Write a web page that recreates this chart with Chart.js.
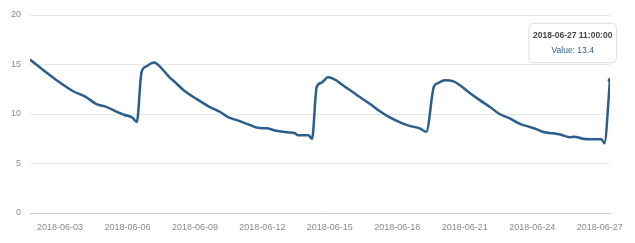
<!DOCTYPE html>
<html>
<head>
<meta charset="utf-8">
<script src="https://cdn.jsdelivr.net/npm/chart.js@4"></script>
<style>
html,body{margin:0;padding:0;background:#fff;}
#wrap{width:635px;height:243px;}
</style>
</head>
<body>
<div id="wrap"><canvas id="c" width="635" height="243"></canvas></div>
<script>
const times = [
"2018-06-01 16:00","2018-06-02 08:00","2018-06-02 22:00","2018-06-03 14:00","2018-06-04 03:00",
"2018-06-04 15:00","2018-06-05 02:00","2018-06-05 11:00","2018-06-05 21:00","2018-06-06 05:00",
"2018-06-06 10:00","2018-06-06 15:00","2018-06-06 20:00","2018-06-07 04:00","2018-06-07 07:00",
"2018-06-07 21:00","2018-06-08 03:00","2018-06-08 12:00","2018-06-09 02:00","2018-06-09 16:00",
"2018-06-10 03:00","2018-06-10 12:00","2018-06-10 20:00","2018-06-11 09:00","2018-06-11 19:00",
"2018-06-12 05:00","2018-06-12 15:00","2018-06-13 02:00","2018-06-13 11:00","2018-06-13 14:00",
"2018-06-14 01:00","2018-06-14 05:00","2018-06-14 10:00","2018-06-14 15:00","2018-06-14 22:00",
"2018-06-15 05:00","2018-06-15 14:00","2018-06-16 05:00","2018-06-16 19:00","2018-06-17 05:00",
"2018-06-17 16:00","2018-06-18 03:00","2018-06-18 13:00","2018-06-19 00:00","2018-06-19 07:00",
"2018-06-19 15:00","2018-06-19 19:00","2018-06-20 03:00","2018-06-20 12:00","2018-06-20 19:00",
"2018-06-21 05:00","2018-06-21 16:00","2018-06-22 03:00","2018-06-22 13:00","2018-06-23 00:00",
"2018-06-23 11:00","2018-06-23 21:00","2018-06-24 05:00","2018-06-24 13:00","2018-06-24 22:00",
"2018-06-25 07:00","2018-06-25 16:00","2018-06-25 21:00","2018-06-26 06:00","2018-06-26 15:00",
"2018-06-27 02:00","2018-06-27 05:00","2018-06-27 11:00"
];
const values = [
15.5,14.3,13.3,12.3,11.75,
11.0,10.7,10.3,9.9,9.65,
9.2,14.2,14.8,15.2,15.1,
13.7,13.2,12.4,11.5,10.7,
10.2,9.65,9.4,8.95,8.6,
8.55,8.3,8.15,8.05,7.85,
7.85,7.5,12.75,13.15,13.7,
13.5,12.9,11.9,11.0,10.3,
9.65,9.15,8.8,8.55,8.2,
12.75,13.1,13.4,13.3,12.9,
12.15,11.4,10.7,10.0,9.55,
9.0,8.7,8.45,8.15,8.05,
7.9,7.65,7.7,7.5,7.45,
7.45,7.05,13.4
];
const tickDates = ["2018-06-03","2018-06-06","2018-06-09","2018-06-12","2018-06-15","2018-06-18","2018-06-21","2018-06-24","2018-06-27"];
const yTicks = [0,5,10,15,20];
const seriesName = "Value";

function parseT(s){
  const [d,t] = s.split(" ");
  const [Y,M,D] = d.split("-").map(Number);
  const [h,m] = (t||"00:00").split(":").map(Number);
  return Date.UTC(Y,M-1,D,h,m);
}
function pad(n){return String(n).padStart(2,"0");}
function fmtDate(v){const d=new Date(v);return d.getUTCFullYear()+"-"+pad(d.getUTCMonth()+1)+"-"+pad(d.getUTCDate());}
function fmtDateTime(v){const d=new Date(v);return fmtDate(v)+" "+pad(d.getUTCHours())+":"+pad(d.getUTCMinutes())+":00";}

const points = times.map((t,i)=>({x:parseT(t), y:values[i]}));
const lineColor = "#2b5e8c";

Chart.Tooltip.positioners.fixedBox = function(elements, pos){
  if(!elements.length) return false;
  const el = elements[0].element;
  return {x: el.x - 76, y: el.y - 57};
};

const chart = new Chart(document.getElementById("c"), {
  type: "line",
  data: { datasets: [{
    label: seriesName,
    data: points,
    borderColor: lineColor,
    backgroundColor: lineColor,
    borderWidth: 2.5,
    pointRadius: 0,
    pointHoverRadius: 2,
    pointHoverBorderWidth: 1,
    pointHoverBackgroundColor: lineColor,
    pointHoverBorderColor: lineColor,
    cubicInterpolationMode: "monotone",
    fill: false
  }]},
  options: {
    responsive: false,
    animation: false,
    events: [],
    layout: { padding: { top: 15, right: 25, bottom: 0, left: 0 } },
    plugins: {
      legend: { display: false },
      tooltip: {
        enabled: true,
        position: "fixedBox",
        xAlign: "left",
        yAlign: "top",
        caretSize: 0,
        caretPadding: 0,
        backgroundColor: "rgba(255,255,255,0.96)",
        borderColor: "#dcdcdc",
        borderWidth: 1,
        cornerRadius: 5,
        displayColors: false,
        titleColor: "#444",
        titleFont: { family: "Liberation Sans", size: 8.5, weight: "bold" },
        bodyColor: "#2e5f8e",
        bodyFont: { family: "Liberation Sans", size: 8.5 },
        titleAlign: "center",
        bodyAlign: "center",
        titleMarginBottom: 5,
        padding: { top: 7.5, bottom: 6.5, left: 4, right: 4 },
        callbacks: {
          title: (items) => fmtDateTime(items[0].parsed.x),
          label: (item) => item.dataset.label + ": " + item.parsed.y
        }
      }
    },
    scales: {
      x: {
        type: "linear",
        min: points[0].x,
        max: points[points.length-1].x,
        afterBuildTicks: (s) => { s.ticks = tickDates.map(d => ({ value: parseT(d) })); },
        afterFit: (s) => { s.height = 30; },
        grid: { display: false, drawTicks: false },
        border: { display: true, color: "#cccccc", width: 1 },
        ticks: {
          autoSkip: false, maxRotation: 0, padding: 9,
          color: "#8a8a8a",
          font: { family: "Liberation Sans", size: 9 },
          callback: (v) => fmtDate(v)
        }
      },
      y: {
        min: 0, max: 20,
        afterBuildTicks: (s) => { s.ticks = yTicks.map(v => ({ value: v })); },
        afterFit: (s) => { s.width = 30; },
        grid: { color: "#e6e6e6", drawTicks: false, lineWidth: 1 },
        border: { display: false },
        ticks: {
          padding: 9,
          color: "#8a8a8a",
          font: { family: "Liberation Sans", size: 9 }
        }
      }
    }
  }
});

const last = points.length - 1;
const el = chart.getDatasetMeta(0).data[last];
chart.setActiveElements([{ datasetIndex: 0, index: last }]);
chart.tooltip.setActiveElements([{ datasetIndex: 0, index: last }], { x: el.x, y: el.y });
chart.update("none");
</script>
</body>
</html>
